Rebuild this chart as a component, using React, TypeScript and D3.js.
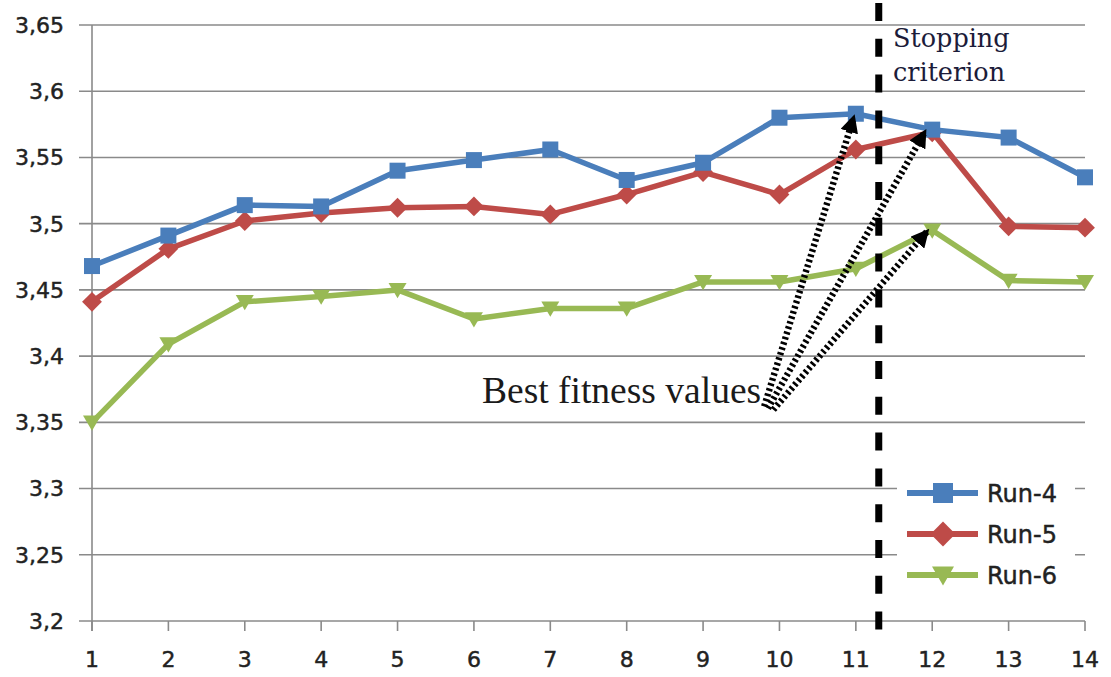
import React from "react";
import * as d3 from "d3";

const generations = [1, 2, 3, 4, 5, 6, 7, 8, 9, 10, 11, 12, 13, 14];
const run4 = [3.468, 3.491, 3.514, 3.513, 3.540, 3.548, 3.556, 3.533, 3.546, 3.580, 3.583, 3.571, 3.565, 3.535];
const run5 = [3.441, 3.481, 3.502, 3.508, 3.512, 3.513, 3.507, 3.522, 3.539, 3.522, 3.556, 3.569, 3.498, 3.497];
const run6 = [3.350, 3.409, 3.441, 3.445, 3.450, 3.428, 3.436, 3.436, 3.456, 3.456, 3.466, 3.495, 3.457, 3.456];
const yTicks = [3.2, 3.25, 3.3, 3.35, 3.4, 3.45, 3.5, 3.55, 3.6, 3.65];
const stopAt = 11.3;
const seriesNames = ["Run-4", "Run-5", "Run-6"];
const seriesColors = ["#4a7ebb", "#be4b48", "#98b954"];
const seriesMarkers = ["square", "diamond", "triangle"];
// arrows: from annotation point (generation, value) to best point (generation, value)
const arrowFrom = [
  [9.8, 3.362],
  [9.85, 3.3605],
  [9.92, 3.3595],
];
const arrowTo = [
  [10.97, 3.58],
  [11.9, 3.569],
  [11.93, 3.494],
];

const W = 1111;
const H = 677;
const x = d3.scaleLinear().domain([1, 14]).range([92, 1085]);
const y = d3.scaleLinear().domain([3.2, 3.65]).range([621, 25]);

function fmt(v: number) {
  return String(+v.toFixed(2)).replace(".", ",");
}

function Marker({ kind, cx, cy, color, s }: { kind: string; cx: number; cy: number; color: string; s: number }) {
  if (kind === "square") {
    return <rect x={cx - s / 2} y={cy - s / 2} width={s} height={s} fill={color} />;
  }
  if (kind === "diamond") {
    const r = s * 0.62;
    return <path d={`M${cx},${cy - r}L${cx + r},${cy}L${cx},${cy + r}L${cx - r},${cy}Z`} fill={color} />;
  }
  const h = s * 0.95;
  return (
    <path
      d={`M${cx - s / 2 - 1},${cy - h * 0.45}L${cx + s / 2 + 1},${cy - h * 0.45}L${cx},${cy + h * 0.55}Z`}
      fill={color}
    />
  );
}

export default function App() {
  const data = [run4, run5, run6];
  const line = d3
    .line<number>()
    .x((_, i) => x(generations[i]))
    .y((d) => y(d));
  const grid = "#8a8a8a";
  const axisFont = "'DejaVu Sans', sans-serif";
  const textStroke = { stroke: "#222", strokeWidth: 0.45 };
  return (
    <svg
      width={W}
      height={H}
      style={{ position: "absolute", left: 0, top: 0, background: "#fff" }}
      xmlns="http://www.w3.org/2000/svg"
    >
      <defs>
        <marker id="ah" viewBox="0 0 10 10" refX="8" refY="5" markerWidth="2.8" markerHeight="2.8" orient="auto" markerUnits="strokeWidth">
          <path d="M0,0L10,5L0,10Z" fill="#000" />
        </marker>
      </defs>
      <rect width={W} height={H} fill="#fff" />
      {/* gridlines */}
      {yTicks.map((t) => (
        <line key={t} x1={79} x2={x(14)} y1={y(t)} y2={y(t)} stroke={grid} strokeWidth={1.6} />
      ))}
      {/* y axis */}
      <line x1={x(1)} x2={x(1)} y1={y(3.65)} y2={y(3.2) + 10} stroke={grid} strokeWidth={1.6} />
      {/* x ticks */}
      {generations.map((g) => (
        <line key={g} x1={x(g)} x2={x(g)} y1={y(3.2)} y2={y(3.2) + 10} stroke={grid} strokeWidth={1.6} />
      ))}
      {yTicks.map((t) => (
        <text
          key={t}
          x={64}
          y={y(t)}
          dy="0.36em"
          textAnchor="end"
          fontFamily={axisFont}
          fontSize={22}
          fill="#222"
          {...textStroke}
        >
          {fmt(t)}
        </text>
      ))}
      {generations.map((g) => (
        <text key={g} x={x(g)} y={667} textAnchor="middle" fontFamily={axisFont} fontSize={22} fill="#222" {...textStroke}>
          {g}
        </text>
      ))}
      {/* series */}
      {[2, 1, 0].map((si) => (
        <g key={si}>
          <path d={line(data[si]) || ""} fill="none" stroke={seriesColors[si]} strokeWidth={5.5} strokeLinejoin="round" />
          {data[si].map((v, i) => (
            <Marker key={i} kind={seriesMarkers[si]} cx={x(generations[i])} cy={y(v)} color={seriesColors[si]} s={16} />
          ))}
        </g>
      ))}
      {/* stopping criterion */}
      <line
        x1={x(stopAt)}
        x2={x(stopAt)}
        y1={3}
        y2={632}
        stroke="#000"
        strokeWidth={7}
        strokeDasharray="18 17.8"
      />
      <text x={893} y={47} fontFamily="'DejaVu Serif', serif" fontSize={25.5} fill="#1c1c3a">
        Stopping
      </text>
      <text x={893} y={81} fontFamily="'DejaVu Serif', serif" fontSize={25.5} fill="#1c1c3a">
        criterion
      </text>
      {/* arrows */}
      {arrowFrom.map((f, i) => (
        <line
          key={i}
          x1={x(f[0])}
          y1={y(f[1])}
          x2={x(arrowTo[i][0])}
          y2={y(arrowTo[i][1])}
          stroke="#000"
          strokeWidth={6.5}
          strokeDasharray="2.6 2.8"
          markerEnd="url(#ah)"
        />
      ))}
      <text x={482} y={403} fontFamily="'Liberation Serif', serif" fontSize={37.5} fill="#1a1a1a">
        Best fitness values
      </text>
      {/* legend */}
      <rect x={897} y={472} width={178} height={124} fill="#fff" />
      {seriesNames.map((n, i) => {
        const ly = 493 + i * 41;
        return (
          <g key={n}>
            <line x1={907} x2={978} y1={ly} y2={ly} stroke={seriesColors[i]} strokeWidth={6} />
            <Marker kind={seriesMarkers[i]} cx={943} cy={ly} color={seriesColors[i]} s={20} />
            <text x={987} y={ly} dy="0.36em" fontFamily={axisFont} fontSize={24} fill="#222" {...textStroke}>
              {n}
            </text>
          </g>
        );
      })}
    </svg>
  );
}
